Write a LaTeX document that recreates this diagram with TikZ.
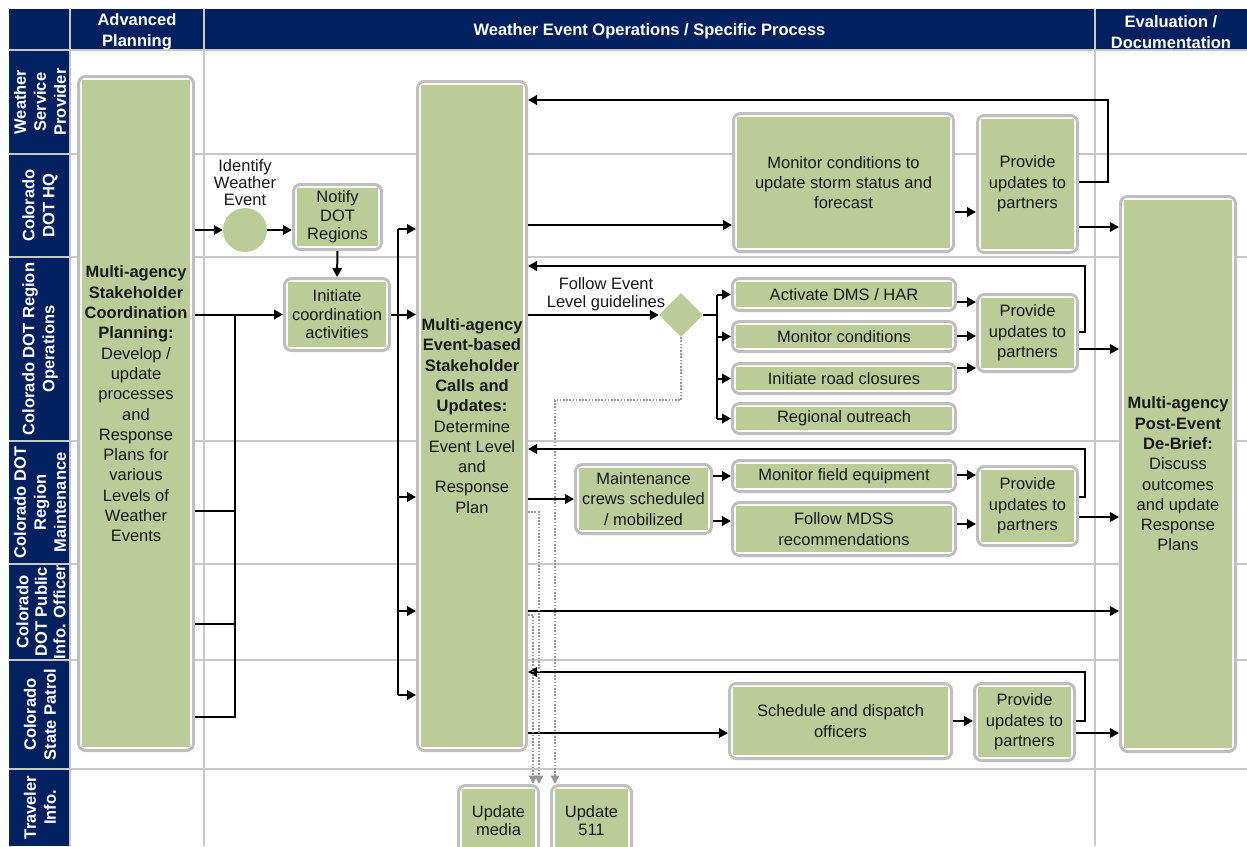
\documentclass[tikz,border=0pt]{standalone}
\usepackage{fontspec}
\setmainfont{Liberation Sans}
\usetikzlibrary{arrows.meta,shapes.geometric,calc}
\definecolor{navy}{RGB}{0,32,96}
\definecolor{gfill}{RGB}{188,204,152}
\definecolor{gborder}{RGB}{191,191,191}
\definecolor{gridc}{RGB}{200,200,200}
\definecolor{dotc}{RGB}{150,150,150}
\definecolor{txt}{RGB}{25,25,25}
\begin{document}
\begin{tikzpicture}[x=1pt,y=-1pt,
  every node/.style={font=\fontsize{16.5}{20.3}\selectfont, text=txt},
  gbox/.style={draw=gborder, line width=3pt, rounded corners=7pt, fill=white, inner sep=0pt, align=center,
    path picture={\fill[gfill, sharp corners] ([xshift=3.5pt,yshift=-3.5pt]path picture bounding box.north west) rectangle ([xshift=-3.5pt,yshift=3.5pt]path picture bounding box.south east);}},
  tight/.style={font=\fontsize{16.5}{18.5}\selectfont},
  hdr/.style={text=white, font=\fontsize{16.5}{21}\selectfont\bfseries, align=center},
  lane/.style={text=white, font=\fontsize{16.5}{20}\selectfont\bfseries, align=center, rotate=90, inner sep=0pt},
  gridline/.style={draw=gridc, line width=1.5pt},
  conn/.style={draw=black, line width=2pt},
  arr/.style={conn, -{Triangle[length=9pt,width=9.5pt]}},
  dotarr/.style={draw=dotc, line width=1.6pt, dash pattern=on 1.6pt off 1.6pt, -{Triangle[length=8.5pt,width=8.5pt]}},
  plainlbl/.style={align=center, inner sep=0pt}
]
\useasboundingbox (0,0) rectangle (1247,846);
% backgrounds
\fill[navy] (9,9) rectangle (1247,50);
\fill[navy] (9,50) rectangle (70,846);
% grid
\foreach \yy in {50,154,257,441,564,660,769} \draw[gridline] (9,\yy) -- (1247,\yy);
\foreach \xx in {70,204,1095} \draw[gridline] (\xx,9) -- (\xx,846);
% headers
\node[hdr] (h1) at (137,32) {Advanced\\Planning};
\node[hdr] (h2) at (649.5,31.5) {Weather Event Operations / Specific Process};
\node[hdr] (h3) at (1171,32) {Evaluation /\\Documentation};
% lane labels
\node[lane] (l1) at (40,102) {Weather\\Service\\Provider};
\node[lane] (l2) at (40,205.5) {Colorado\\DOT HQ};
\node[lane] (l3) at (40,349) {Colorado DOT Region\\Operations};
\node[lane] (l4) at (40,502.5) {Colorado DOT\\Region\\Maintenance};
\node[lane, font=\fontsize{16.5}{18.5}\selectfont\bfseries] (l5) at (41,612) {Colorado\\DOT Public\\Info. Officer};
\node[lane] (l6) at (40,714.5) {Colorado\\State Patrol};
\node[lane] (l7) at (40,807.5) {Traveler\\Info.};

% boxes
\node[gbox, minimum width=115pt, minimum height=674pt] (bigL) at (136,413.5) {};
\node[plainlbl] (bigLt) at (136,404) {\textbf{Multi-agency}\\\textbf{Stakeholder}\\\textbf{Coordination}\\\textbf{Planning:}\\Develop /\\update\\processes\\and\\Response\\Plans for\\various\\Levels of\\Weather\\Events};
\node[circle, fill=gfill, minimum size=44pt, inner sep=0pt] (circ) at (245,230) {};
\node[plainlbl, font=\fontsize{16.5}{17}\selectfont] (circl) at (245,183) {Identify\\Weather\\Event};
\node[gbox, tight, minimum width=88pt, minimum height=65pt] (notify) at (337.5,217) {Notify\\DOT\\Regions};
\node[gbox, tight, minimum width=105pt, minimum height=72pt] (initiate) at (337,314.5) {Initiate\\coordination\\activities};
\node[gbox, minimum width=109pt, minimum height=669pt] (mid) at (472,416) {\textbf{Multi-agency}\\\textbf{Event-based}\\\textbf{Stakeholder}\\\textbf{Calls and}\\\textbf{Updates:}\\Determine\\Event Level\\and\\Response\\Plan};
\node[gbox, minimum width=220pt, minimum height=138pt] (monitor) at (843.5,182.5) {Monitor conditions to\\update storm status and\\forecast};
\node[gbox, minimum width=100pt, minimum height=137pt] (provHQ) at (1027.5,184) {Provide\\updates to\\partners};
\node[gbox, minimum width=115pt, minimum height=555pt] (right) at (1178,474) {\textbf{Multi-agency}\\\textbf{Post-Event}\\\textbf{De-Brief:}\\Discuss\\outcomes\\and update\\Response\\Plans};
\node[diamond, fill=gfill, minimum width=44pt, minimum height=44pt, inner sep=0pt] (dia) at (681,315) {};
\node[plainlbl, font=\fontsize{16.5}{18}\selectfont] (dial) at (606,294.5) {Follow Event\\Level guidelines};
\node[gbox, minimum width=223pt, minimum height=32pt] (act) at (844,294.5) {Activate DMS / HAR};
\node[gbox, minimum width=223pt, minimum height=30pt] (moncond) at (844,336.5) {Monitor conditions};
\node[gbox, minimum width=223pt, minimum height=30pt] (road) at (844,378.5) {Initiate road closures};
\node[gbox, minimum width=223pt, minimum height=30pt] (outreach) at (844,418.5) {Regional outreach};
\node[gbox, minimum width=100pt, minimum height=77pt] (provOps) at (1027.5,333) {Provide\\updates to\\partners};
\node[gbox, minimum width=136pt, minimum height=69pt] (maint) at (643.5,499) {Maintenance\\crews scheduled\\/ mobilized};
\node[gbox, minimum width=223pt, minimum height=31pt] (field) at (844,476) {Monitor field equipment};
\node[gbox, minimum width=223pt, minimum height=53pt] (mdss) at (844,529) {Follow MDSS\\recommendations};
\node[gbox, minimum width=100pt, minimum height=79pt] (provM) at (1027.5,506) {Provide\\updates to\\partners};
\node[gbox, minimum width=222pt, minimum height=75pt] (sched) at (840.5,721) {Schedule and dispatch\\officers};
\node[gbox, minimum width=100pt, minimum height=77pt] (provP) at (1024.5,722) {Provide\\updates to\\partners};
\node[gbox, tight, minimum width=80pt, minimum height=70pt] (media) at (498.5,820.5) {Update\\media};
\node[gbox, tight, minimum width=80pt, minimum height=70pt] (u511) at (591.5,820.5) {Update\\511};

% helper coordinates
\coordinate (busL) at (235,314.5);
\coordinate (busR) at (398,314.5);
\coordinate (busD) at (717,315);
\coordinate (retHQ) at (1108,100);
\coordinate (retOps) at (1085,266);
\coordinate (retM) at (1085,449);
\coordinate (retP) at (1085,672);
\coordinate (dd1) at (681,400);
\coordinate (dd2) at (555,400);
\coordinate (dm1) at (539,512);
\coordinate (dm2) at (533,615);

% left planning connectors
\draw[arr] (bigL.east |- circ.west) -- (circ.west);
\draw[arr] (circ.east) -- (circ.east -| notify.west);
\draw[arr] (notify.south) -- (initiate.north);
\draw[arr] (bigL.east |- initiate.west) -- (initiate.west);
\draw[conn] (busL) -- (busL |- 0,717) -- (bigL.east |- 0,717);
\draw[conn] (bigL.east |- 0,511) -- (busL |- 0,511);
\draw[conn] (bigL.east |- 0,624) -- (busL |- 0,624);
% bus into middle box
\draw[conn] (initiate.east) -- (busR);
\draw[conn] (busR |- 0,229) -- (busR |- 0,695);
\draw[arr] (busR) -- (mid.west |- busR);
\foreach \yy in {229,497,611,695} \draw[arr] (busR |- 0,\yy) -- (mid.west |- 0,\yy);

% HQ lane
\draw[arr] (mid.east |- 0,225) -- (monitor.west |- 0,225);
\draw[arr] (monitor.east |- 0,212) -- (provHQ.west |- 0,212);
\draw[arr] (provHQ.east |- 0,227) -- (right.west |- 0,227);
\draw[arr] (provHQ.east |- 0,182) -| (retHQ) -- (mid.east |- retHQ);

% Ops lane
\draw[arr] (mid.east |- dia) -- (dia.west);
\draw[conn, line width=2.8pt] (dia.east) -- (busD);
\draw[conn] (busD |- act.west) -- (busD |- outreach.west);
\foreach \nn in {act,moncond,road,outreach} \draw[arr] (busD |- \nn.west) -- (\nn.west);
\draw[arr] (act.east |- 0,302) -- (provOps.west |- 0,302);
\draw[arr] (moncond.east |- 0,336) -- (provOps.west |- 0,336);
\draw[arr] (road.east |- 0,368) -- (provOps.west |- 0,368);
\draw[arr] (provOps.east |- 0,349) -- (right.west |- 0,349);
\draw[arr] (provOps.east |- 0,332) -| (retOps) -- (mid.east |- retOps);
\draw[dotarr] (dia.south) -- (dd1) -- (dd2) -- (dd2 |- u511.north);

% Maintenance lane
\draw[arr] (mid.east |- maint.west) -- (maint.west);
\draw[arr] (maint.east |- field.west) -- (field.west);
\draw[arr] (maint.east |- 0,521) -- (mdss.west |- 0,521);
\draw[arr] (field.east |- 0,475) -- (provM.west |- 0,475);
\draw[arr] (mdss.east |- 0,524) -- (provM.west |- 0,524);
\draw[arr] (provM.east |- 0,517) -- (right.west |- 0,517);
\draw[arr] (provM.east |- 0,497) -| (retM) -- (mid.east |- retM);

% PIO lane
\draw[arr] (mid.east |- 0,611) -- (right.west |- 0,611);

% Patrol lane
\draw[arr] (mid.east |- 0,733) -- (sched.west |- 0,733);
\draw[arr] (sched.east |- 0,721) -- (provP.west |- 0,721);
\draw[arr] (provP.east |- 0,733) -- (right.west |- 0,733);
\draw[arr] (provP.east |- 0,721) -| (retP) -- (mid.east |- retP);

% traveler info dotted
\draw[dotarr] (mid.east |- dm1) -- (dm1) -- (dm1 |- media.north);
\draw[dotarr] (mid.east |- dm2) -- (dm2) -- (dm2 |- media.north);
\end{tikzpicture}
\end{document}
